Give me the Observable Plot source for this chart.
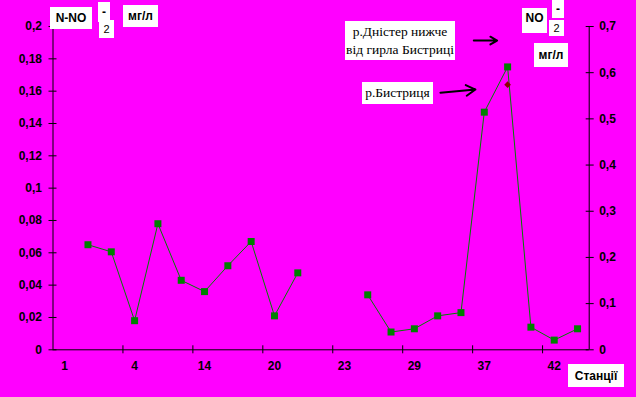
<!DOCTYPE html>
<html><head><meta charset="utf-8">
<script src="https://cdn.jsdelivr.net/npm/d3@7"></script>
<script src="https://cdn.jsdelivr.net/npm/@observablehq/plot@0.6"></script>
<style>
html,body{margin:0;padding:0;background:#ff00ff;}
#wrap{position:relative;width:636px;height:397px;overflow:hidden;background:#ff00ff;}
#chart{position:absolute;left:0;top:0;}
.box{position:absolute;background:#fff;color:#000;font-family:"Liberation Sans",Arial,sans-serif;font-weight:bold;font-size:12px;display:flex;align-items:center;justify-content:center;white-space:nowrap;box-sizing:border-box;line-height:1;}
.reg{font-weight:normal;font-size:11px;}
.serif{font-family:"Liberation Serif","Times New Roman",serif;font-weight:normal;font-size:13.5px;line-height:18px;flex-direction:column;text-align:center;}
</style></head><body>
<div id="wrap">
  <div id="chart"></div>
  <div class="box" style="left:50px;top:7px;width:42px;height:22px;">N-NO</div>
  <div class="box" style="left:98px;top:2px;width:12px;height:20px;align-items:flex-start;padding-top:4px;">-</div>
  <div class="box reg" style="left:99px;top:20px;width:15px;height:18px;">2</div>
  <div class="box" style="left:123px;top:5px;width:35px;height:22px;">мг/л</div>

  <div class="box" style="left:522px;top:8px;width:25px;height:25px;align-items:flex-start;padding-top:4px;">NO</div>
  <div class="box" style="left:552px;top:0px;width:12px;height:18px;align-items:flex-start;padding-top:3px;">-</div>
  <div class="box reg" style="left:549px;top:20px;width:15px;height:16px;">2</div>
  <div class="box" style="left:534px;top:43px;width:34px;height:24px;">мг/л</div>

  <div class="box serif" style="left:345px;top:21px;width:110px;height:39px;"><div>р.Дністер нижче</div><div>від гирла Бистриці</div></div>
  <div class="box serif" style="left:362px;top:82px;width:71px;height:22px;">р.Бистриця</div>

  <div class="box" style="left:568px;top:364px;width:56px;height:23px;">Станції</div>
</div>
<script>
// Category slots along the x axis (23 slots, labels every third slot)
const stationIndex = [0,1,2,3,4,5,6,7,8,9,10,11,12,13,14,15,16,17,18,19,20,21,22];
// N-NO2 concentration, mg/l (null = no sample)
const nitriteN = [null, 0.065, 0.0606, 0.018, 0.078, 0.043, 0.036, 0.052, 0.067, 0.021, 0.0476,
                  null, null, 0.034, 0.011, 0.013, 0.021, 0.023, 0.147, 0.175, 0.014, 0.006, 0.013];
// Separate point: r. Bystrytsia
const bystrytsiaIndex = [19];
const bystrytsiaValue = [0.164];

const xLabelIndex = [0, 3, 6, 9, 12, 15, 18, 21];
const xLabels = ["1", "4", "14", "20", "23", "29", "37", "42"];
const xTickBounds = [2.5, 5.5, 8.5, 11.5, 14.5, 17.5, 20.5];
const leftTicks = [0, 0.02, 0.04, 0.06, 0.08, 0.1, 0.12, 0.14, 0.16, 0.18, 0.2];
const rightTicks = [0, 0.1, 0.2, 0.3, 0.4, 0.5, 0.6, 0.7];
const rightRatio = 3.5; // right axis (NO2-) = 3.5 x left axis

// Annotation arrows (data units)
const arrowX1 = [17.55, 16.12];
const arrowX2 = [18.55, 17.62];
const arrowY1 = [0.1913, 0.159];
const arrowY2 = [0.1913, 0.161];
const arrows = arrowX1.map((x, i) => ({x1: x, x2: arrowX2[i], y1: arrowY1[i], y2: arrowY2[i]}));

const fmt = d => String(+(+d).toFixed(2)).replace(".", ",");

const chart = Plot.plot({
  width: 636, height: 397,
  marginLeft: 52.5, marginRight: 47.3, marginTop: 26, marginBottom: 47.7,
  style: {background: "transparent", fontFamily: "'Liberation Sans', Arial, sans-serif", fontSize: "12px", fontWeight: "bold", color: "#000", overflow: "visible"},
  x: {type: "linear", domain: [-0.5, 22.5]},
  y: {type: "linear", domain: [0, 0.2]},
  marks: [
    Plot.ruleX([-0.5], {stroke: "#000"}),
    Plot.ruleX([22.5], {stroke: "#000"}),
    Plot.ruleY([0], {stroke: "#000"}),
    Plot.axisY(leftTicks, {anchor: "left", tickSize: 8, dx: 4, tickPadding: 7, tickFormat: fmt, label: null}),
    Plot.axisY(rightTicks.map(v => v / rightRatio), {anchor: "right", tickSize: 8, dx: -4, tickPadding: 6,
      tickFormat: d => fmt(Math.round(d * rightRatio * 10) / 10), label: null}),
    Plot.axisX(xTickBounds, {anchor: "bottom", tickSize: 8, dy: -4, tickFormat: () => "", label: null}),
    Plot.axisX(xLabelIndex, {anchor: "bottom", tickSize: 0, tickPadding: 12,
      tickFormat: d => xLabels[xLabelIndex.indexOf(d)], label: null}),
    Plot.line(stationIndex, {x: d => d, y: d => nitriteN[d], stroke: "#008000", strokeWidth: 1}),
    Plot.dot(stationIndex.filter(d => nitriteN[d] != null), {x: d => d, y: d => nitriteN[d], symbol: "square", r: 3.95, fill: "#008000"}),
    Plot.dot(bystrytsiaIndex, {x: d => d, y: (d, i) => bystrytsiaValue[i], symbol: "diamond2", r: 3, fill: "#8b0000"}),
    Plot.arrow(arrows, {x1: "x1", y1: "y1", x2: "x2", y2: "y2", stroke: "#000", strokeWidth: 2, headLength: 8})
  ]
});
document.getElementById("chart").appendChild(chart);
</script>
</body></html>
